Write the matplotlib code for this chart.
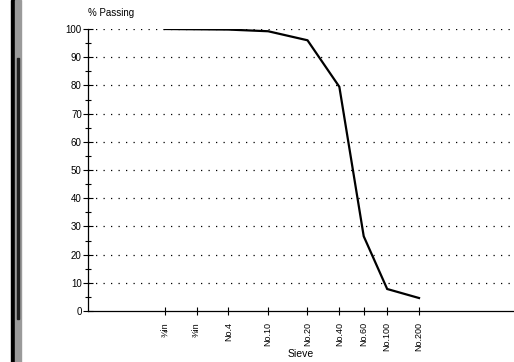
import matplotlib
matplotlib.use("Agg")
import matplotlib.pyplot as plt
from matplotlib.patches import Rectangle
from matplotlib.ticker import MultipleLocator, FixedLocator, NullFormatter

sieves = ["¾in", "⅜in", "No.4", "No.10", "No.20", "No.40", "No.60", "No.100", "No.200"]
sizes_mm = [19.0, 9.5, 4.75, 2.0, 0.85, 0.425, 0.25, 0.15, 0.075]
passing = [100.0, 99.9, 99.8, 99.2, 96.0, 79.5, 26.5, 7.8, 4.6]

plt.rcParams['font.family'] = ['Liberation Sans', 'DejaVu Sans']

fig = plt.figure(figsize=(5.14, 3.62), dpi=100)
W, H = 514, 362
ax = fig.add_axes([88 / W, (H - 311) / H, (513 - 88) / W, (311 - 29) / H])

ax.plot(sizes_mm, passing, color='black', lw=1.6, solid_joinstyle='miter')

ax.set_xscale('log')
ax.set_xlim(101, 0.0097)
ax.set_ylim(0, 100)

for v in range(10, 101, 10):
    ax.axhline(v, color='black', lw=0.9, linestyle=(0, (1, 5)), zorder=0)

ax.xaxis.set_major_locator(FixedLocator(sizes_mm))
ax.xaxis.set_minor_locator(FixedLocator([]))
ax.xaxis.set_minor_formatter(NullFormatter())
ax.set_xticklabels(sieves, rotation=90, fontsize=6.5)
ax.yaxis.set_major_locator(MultipleLocator(10))
ax.yaxis.set_minor_locator(MultipleLocator(5))
ax.tick_params(axis='y', which='major', direction='inout', length=7, width=0.8, labelsize=7, pad=1)
ax.tick_params(axis='y', which='minor', direction='inout', length=5, width=0.8)
ax.tick_params(axis='x', which='major', direction='inout', length=6, width=0.8, pad=5)

for s in ['top', 'right']:
    ax.spines[s].set_visible(False)
for s in ['left', 'bottom']:
    ax.spines[s].set_linewidth(0.9)

fig.text(88 / W, 1 - 13 / H, "% Passing", fontsize=7, ha='left', va='center')
fig.text(301 / W, 1 - 354 / H, "Sieve", fontsize=7.5, ha='center', va='center')

# scanned page edge on the left
fig.patches.append(Rectangle((11 / W, 0), 4 / W, 1, transform=fig.transFigure,
                             color='black', zorder=5))
fig.patches.append(Rectangle((15 / W, 0), 6 / W, 1, transform=fig.transFigure,
                             color='#9a9a9a', zorder=5))
fig.patches.append(Rectangle((17 / W, 0.12), 2 / W, 0.72, transform=fig.transFigure,
                             color='#202020', zorder=6))

fig.savefig("out.png", dpi=100)
